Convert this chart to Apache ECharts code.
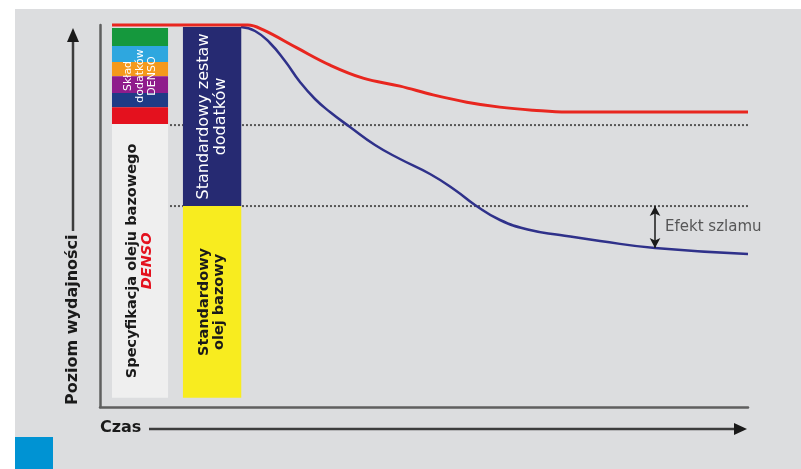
<!DOCTYPE html>
<html><head><meta charset="utf-8">
<script src="https://cdn.jsdelivr.net/npm/echarts@6/dist/echarts.min.js"></script>
<style>html,body{margin:0;padding:0;background:#fff;}#c{width:801px;height:469px;}</style>
</head><body><div id="c"></div>
<script>
// ---- data (time 0..100, performance level 0..100) ----
const redTime   = [1.85, 22.8, 25.2, 30.4, 35.5, 40.6, 46.3, 51.4, 56.6, 61.7, 66.8, 72.1, 77.2, 100];
const redLevel  = [100, 100, 98.7, 94.0, 89.5, 86.1, 84.0, 81.7, 79.8, 78.5, 77.7, 77.2, 77.2, 77.2];
const blueTime  = [21.76, 23.92, 26.23, 28.55, 30.86, 33.18, 35.49, 38.58, 42.44, 46.30, 50.93, 54.78, 57.87, 61.73, 66.36, 70.99, 77.16, 85.65, 100];
const blueLevel = [99.48, 98.43, 95.29, 90.58, 85.08, 80.63, 77.23, 73.30, 68.59, 64.92, 60.99, 56.81, 52.88, 48.95, 46.34, 45.03, 43.46, 41.62, 40.05];
const additiveNames   = ['Dodatek 1', 'Dodatek 2', 'Dodatek 3', 'Dodatek 4', 'Dodatek 5', 'Dodatek 6'];
const additiveTops    = [99.2, 94.5, 90.3, 86.6, 82.2, 78.5];
const additiveBottoms = [94.5, 90.3, 86.6, 82.2, 78.5, 74.1];
const baseFloor = 2.4;
const densoBaseTop = 74.1;
const stdAdditiveTop = 99.5;
const stdBaseTop = 52.6;
const referenceLevels = [73.8, 52.6];
const sludgeTime = 85.65, sludgeFrom = 52.6, sludgeTo = 41.6;
const labelAdditives = 'Skład\ndodatków\nDENSO';
const labelDensoBase = ['Specyfikacja oleju bazowego', 'DENSO'];
const labelStdAdditive = 'Standardowy zestaw\ndodatków';
const labelStdBase = 'Standardowy\nolej bazowy';
const labelSludge = 'Efekt szlamu';
const axisTitleY = 'Poziom wydajności';
const axisTitleX = 'Czas';

// ---- styles ----
const FONT = '"DejaVu Sans", Verdana, sans-serif';
const bandColors = ['#15983d', '#2ea7df', '#f4991c', '#8f1c8c', '#1f3b86', '#e4111e'];
const COL1 = [1.85, 10.5], COL2 = [12.8, 21.8];

const blocks = [];
additiveNames.forEach((n, i) => blocks.push({ x: COL1, top: additiveTops[i], bottom: additiveBottoms[i], color: bandColors[i] }));
blocks.push({ x: COL1, top: additiveTops[0], bottom: additiveBottoms[5], color: 'rgba(0,0,0,0)',
  text: { text: labelAdditives, fill: '#ffffff', font: '11px ' + FONT, lineHeight: 12 } });
blocks.push({ x: COL1, top: densoBaseTop, bottom: baseFloor, color: '#efefef',
  text: { text: '{a|' + labelDensoBase[0] + '}\n{b|' + labelDensoBase[1] + '}',
    rich: { a: { fill: '#1a1a1a', color: '#1a1a1a', fontWeight: 'bold', fontSize: 14.5, fontFamily: FONT, lineHeight: 15 },
            b: { fill: '#e4111e', color: '#e4111e', fontWeight: 'bold', fontStyle: 'italic', fontSize: 14.5, fontFamily: FONT, lineHeight: 15 } } } });
blocks.push({ x: COL2, top: stdAdditiveTop, bottom: stdBaseTop, color: '#262a72',
  text: { text: labelStdAdditive, fill: '#ffffff', font: '16px ' + FONT, lineHeight: 17 } });
blocks.push({ x: COL2, top: stdBaseTop, bottom: baseFloor, color: '#f8ec1f',
  text: { text: labelStdBase, fill: '#1a1a1a', font: 'bold 14.5px ' + FONT, lineHeight: 15 } });

function renderBlock(params, api) {
  const b = blocks[params.dataIndex];
  const p0 = api.coord([api.value(0), api.value(2)]);
  const p1 = api.coord([api.value(1), api.value(3)]);
  const children = [{ type: 'rect', shape: { x: p0[0], y: p0[1], width: p1[0] - p0[0], height: p1[1] - p0[1] }, style: { fill: b.color } }];
  if (b.text) {
    children.push({ type: 'text', x: (p0[0] + p1[0]) / 2, y: (p0[1] + p1[1]) / 2, rotation: Math.PI / 2,
      style: Object.assign({ align: 'center', verticalAlign: 'middle' }, b.text) });
  }
  return { type: 'group', children };
}

const chart = echarts.init(document.getElementById('c'), null, { renderer: 'canvas' });
chart.setOption({
  animation: false,
  backgroundColor: '#ffffff',
  grid: { left: 100, top: 25, width: 648, height: 382 },
  xAxis: { type: 'value', min: 0, max: 100, axisLine: { show: true, lineStyle: { color: '#5f5f5f', width: 2.5 } },
    axisTick: { show: false }, axisLabel: { show: false }, splitLine: { show: false } },
  yAxis: { type: 'value', min: 0, max: 100, axisLine: { show: true, lineStyle: { color: '#5f5f5f', width: 2.5 } },
    axisTick: { show: false }, axisLabel: { show: false }, splitLine: { show: false } },
  graphic: [
    { type: 'rect', z: -100, shape: { x: 15, y: 9, width: 786, height: 460 }, style: { fill: '#dcdddf' } },
    { type: 'rect', shape: { x: 15, y: 437, width: 38, height: 32 }, style: { fill: '#0093d3' } },
    { type: 'line', shape: { x1: 73, y1: 231, x2: 73, y2: 38 }, style: { stroke: '#3c3c3c', lineWidth: 2.5 } },
    { type: 'polygon', shape: { points: [[73, 28], [67, 42], [79, 42]] }, style: { fill: '#1a1a1a' } },
    { type: 'text', x: 73, y: 405, rotation: Math.PI / 2,
      style: { text: axisTitleY, font: 'bold 16px ' + FONT, fill: '#1a1a1a', align: 'left', verticalAlign: 'middle' } },
    { type: 'line', shape: { x1: 149, y1: 429, x2: 737, y2: 429 }, style: { stroke: '#3c3c3c', lineWidth: 2.5 } },
    { type: 'polygon', shape: { points: [[747, 429], [734, 423], [734, 435]] }, style: { fill: '#1a1a1a' } },
    { type: 'text', x: 100, y: 428,
      style: { text: axisTitleX, font: 'bold 16px ' + FONT, fill: '#1a1a1a', align: 'left', verticalAlign: 'middle' } }
  ],
  series: [
    ...referenceLevels.map(lv => ({ type: 'line', z: 1, silent: true, symbol: 'none',
      data: [[10.8, lv], [100, lv]], lineStyle: { color: '#555', width: 2, type: [2, 2] } })),
    { type: 'custom', z: 2, silent: true, renderItem: renderBlock, encode: { x: [0, 1], y: [2, 3] },
      data: blocks.map(b => [b.x[0], b.x[1], b.top, b.bottom]) },
    { type: 'line', z: 4, name: 'DENSO', symbol: 'none', smooth: 0.4, clip: false,
      data: redTime.map((t, i) => [t, redLevel[i]]), lineStyle: { color: '#e8261f', width: 3 } },
    { type: 'line', z: 3, name: 'Standard', symbol: 'none', smooth: 0.5, clip: false,
      data: blueTime.map((t, i) => [t, blueLevel[i]]), lineStyle: { color: '#2f318a', width: 2.5 } },
    { type: 'scatter', z: 5, silent: true, symbolSize: 0,
      data: [[sludgeTime, (sludgeFrom + sludgeTo) / 2]],
      label: { show: true, position: 'right', distance: 10, formatter: labelSludge, color: '#333', fontSize: 15, fontFamily: FONT },
      markLine: { silent: true, symbol: ['arrow', 'arrow'], symbolSize: [8, 10], label: { show: false },
        lineStyle: { color: '#1a1a1a', width: 1.5, type: 'solid' },
        data: [[{ coord: [sludgeTime, sludgeFrom] }, { coord: [sludgeTime, sludgeTo] }]] } }
  ]
});
</script></body></html>
